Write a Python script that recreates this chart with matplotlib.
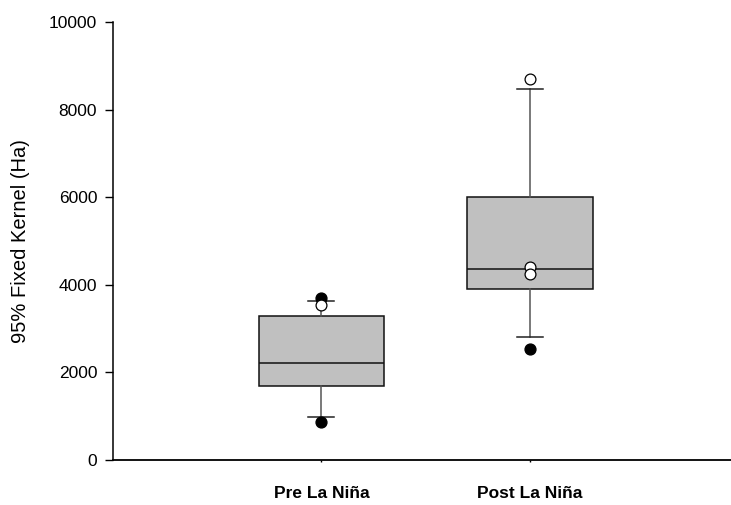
import matplotlib
matplotlib.use("Agg")
import matplotlib.pyplot as plt

categories = ["Pre La Niña", "Post La Niña"]
q1 = [1690, 3900]
medians = [2215, 4350]
q3 = [3290, 6000]
whisker_low = [990, 2800]
whisker_high = [3635, 8460]
black_points = [[3690, 875], [2525]]
white_points = [[3540], [8700, 4400, 4245]]
y_ticks = [0, 2000, 4000, 6000, 8000, 10000]

plt.rcParams['font.family'] = ['Liberation Sans', 'DejaVu Sans']

fig = plt.figure(figsize=(7.31, 5.05), dpi=100)
ax = fig.add_axes([0.1539, 0.0891, 0.857, 0.8673])

positions = [1, 2]
stats = []
for i, c in enumerate(categories):
    stats.append(dict(label=c, q1=q1[i], med=medians[i], q3=q3[i],
                      whislo=whisker_low[i], whishi=whisker_high[i], fliers=[]))

ax.bxp(stats, positions=positions, widths=0.6, showfliers=False, patch_artist=True,
       boxprops=dict(facecolor='#c0c0c0', edgecolor='#111111', linewidth=1.1),
       medianprops=dict(color='#111111', linewidth=1.1),
       whiskerprops=dict(color='#555555', linewidth=1.1),
       capprops=dict(color='#222222', linewidth=1.1),
       capwidths=0.125)

for i, p in enumerate(positions):
    ax.plot([p] * len(black_points[i]), black_points[i], 'o', color='black',
            markersize=7.8, zorder=4)
    ax.plot([p] * len(white_points[i]), white_points[i], 'o', markerfacecolor='white',
            markeredgecolor='black', markeredgewidth=0.9, markersize=7.8, zorder=5)

ax.set_xlim(0, 3)
ax.set_ylim(0, 10000)
ax.set_yticks(y_ticks)
ax.set_yticklabels([str(t) for t in y_ticks], fontsize=12.5)
ax.set_xticks(positions)
ax.set_xticklabels(categories, fontsize=12.5, fontweight='bold')
ax.tick_params(axis='y', direction='out', length=6, width=1, pad=5)
ax.tick_params(axis='x', length=1.5, width=1, pad=17)
ax.spines['top'].set_visible(False)
ax.spines['right'].set_visible(False)
ax.spines['left'].set_linewidth(1.1)
ax.spines['bottom'].set_linewidth(1.3)
ax.set_ylabel("95% Fixed Kernel (Ha)", fontsize=14.5)
ax.yaxis.set_label_coords(-0.132, 0.5)

fig.savefig("out.png", dpi=100)
